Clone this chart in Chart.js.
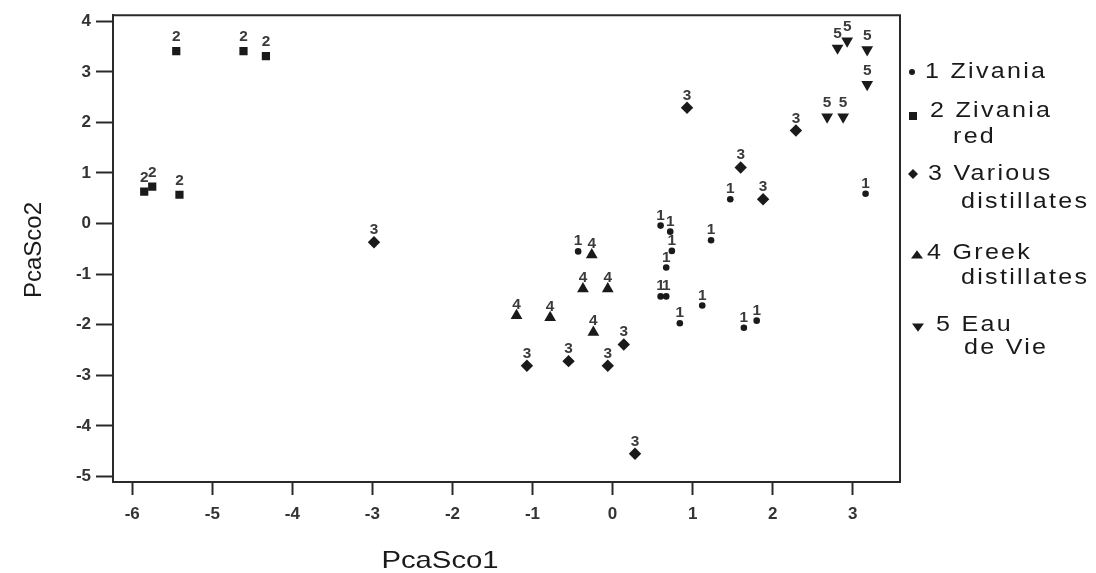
<!DOCTYPE html>
<html>
<head>
<meta charset="utf-8">
<title>PCA scores of distillates</title>
<script src="https://cdn.jsdelivr.net/npm/chart.js@4.4.1/dist/chart.umd.min.js"></script>
<style>
  html, body { margin: 0; padding: 0; background: #ffffff; }
  #wrap { width: 1096px; height: 573px; position: relative; }
</style>
</head>
<body>
<div id="wrap"><canvas id="pca" width="1096" height="573"></canvas></div>
<script>
// ---- data: PCA scores per sample group ----
const groupNumbers = ['1', '2', '3', '4', '5'];
const legendLines = [
  ['1 Zivania'],
  ['2 Zivania', 'red'],
  ['3 Various', 'distillates'],
  ['4 Greek', 'distillates'],
  ['5 Eau', 'de Vie']
];

const zivaniaX = [-0.43, 0.60, 0.72, 0.74, 0.67, 0.60, 0.67, 1.23, 1.12, 0.84, 1.47, 3.16, 1.64, 1.80];
const zivaniaY = [-0.55, -0.04, -0.16, -0.54, -0.87, -1.44, -1.44, -0.33, -1.62, -1.97, 0.48, 0.59, -2.06, -1.92];

const zivaniaRedX = [-5.45, -4.61, -4.33, -5.85, -5.75, -5.41];
const zivaniaRedY = [3.41, 3.41, 3.31, 0.63, 0.73, 0.57];

const variousX = [-2.98, 0.93, 2.29, 1.60, 1.88, -1.07, -0.55, -0.06, 0.14, 0.28];
const variousY = [-0.37, 2.29, 1.84, 1.11, 0.48, -2.81, -2.72, -2.81, -2.39, -4.55];

const greekX = [-0.26, -0.37, -0.06, -1.20, -0.78, -0.24];
const greekY = [-0.62, -1.29, -1.29, -1.82, -1.86, -2.15];

const eauDeVieX = [2.81, 2.93, 3.18, 3.18, 2.68, 2.88];
const eauDeVieY = [3.47, 3.61, 3.44, 2.75, 2.11, 2.11];

const xTickValues = [-6, -5, -4, -3, -2, -1, 0, 1, 2, 3];
const yTickValues = [-5, -4, -3, -2, -1, 0, 1, 2, 3, 4];
const xRange = [-6.24, 3.59];
const yRange = [-5.11, 4.12];

const xTitle = 'PcaSco1';
const yTitle = 'PcaSco2';

// ---- helpers ----
const FAMILY = '"Liberation Sans", Arial, Helvetica, sans-serif';
const INK = '#1a1a1a';

function toPoints(xs, ys) {
  return xs.map((x, i) => ({ x: x, y: ys[i] }));
}

function drawText(ctx, text, x, y, sx, spacing) {
  ctx.save();
  ctx.translate(x, y);
  ctx.scale(sx, 1);
  if (spacing && 'letterSpacing' in ctx) ctx.letterSpacing = spacing + 'px';
  ctx.fillText(text, 0, 0);
  ctx.restore();
}

function drawMarker(ctx, kind, x, y, r) {
  ctx.beginPath();
  if (kind === 'circle') {
    ctx.arc(x, y, r, 0, Math.PI * 2);
  } else if (kind === 'rect') {
    ctx.rect(x - r, y - r, 2 * r, 2 * r);
  } else if (kind === 'rectRot') {
    ctx.moveTo(x, y - r); ctx.lineTo(x + r, y); ctx.lineTo(x, y + r); ctx.lineTo(x - r, y);
  } else if (kind === 'triangle') {
    ctx.moveTo(x, y - r * 0.8); ctx.lineTo(x + r, y + r * 0.6); ctx.lineTo(x - r, y + r * 0.6);
  } else if (kind === 'triangleDown') {
    ctx.moveTo(x, y + r * 0.8); ctx.lineTo(x + r, y - r * 0.6); ctx.lineTo(x - r, y - r * 0.6);
  }
  ctx.closePath();
  ctx.fill();
}

// number written above every point, showing its group
const labelLift = [11, 15, 13, 12, 15];
const groupLabels = {
  id: 'groupLabels',
  afterDatasetsDraw(chart) {
    const ctx = chart.ctx;
    const size = 14;
    ctx.save();
    ctx.font = 'bold ' + size + 'px ' + FAMILY;
    ctx.fillStyle = '#3a3a3a';
    ctx.textAlign = 'center';
    ctx.textBaseline = 'alphabetic';
    chart.data.datasets.forEach((ds, i) => {
      const meta = chart.getDatasetMeta(i);
      meta.data.forEach(el => {
        const cy = el.y - labelLift[i];
        drawText(ctx, groupNumbers[i], el.x, cy + 0.36 * size, 1.1, 0);
      });
    });
    ctx.restore();
  }
};

// closes the plot box on the top and right sides
const plotFrame = {
  id: 'plotFrame',
  beforeDatasetsDraw(chart) {
    const { ctx, chartArea: a } = chart;
    ctx.save();
    ctx.strokeStyle = '#2a2a2a';
    ctx.lineWidth = 2;
    ctx.beginPath();
    ctx.moveTo(a.left, a.top);
    ctx.lineTo(a.right, a.top);
    ctx.lineTo(a.right, a.bottom);
    ctx.stroke();
    ctx.restore();
  }
};

// axis titles
const axisTitles = {
  id: 'axisTitles',
  afterDraw(chart) {
    const ctx = chart.ctx;
    ctx.save();
    ctx.fillStyle = INK;
    ctx.font = '24px ' + FAMILY;
    ctx.textAlign = 'center';
    ctx.textBaseline = 'middle';
    drawText(ctx, xTitle, 440, 561, 1.22, 0);
    ctx.save();
    ctx.translate(34, 250);
    ctx.rotate(-Math.PI / 2);
    ctx.fillText(yTitle, 0, 0);
    ctx.restore();
    ctx.restore();
  }
};

// legend at the right of the plot, with wrapped names
const legendMarks = ['circle', 'rect', 'rectRot', 'triangle', 'triangleDown'];
const legendMarkSize = [3, 4, 5, 6, 6];
const legendRows = [
  { mark: [912, 72], text: [[925, 72]] },
  { mark: [913, 116], text: [[930, 111], [953, 137]] },
  { mark: [913, 174], text: [[928, 174], [961, 202]] },
  { mark: [917, 255], text: [[927, 253], [961, 278]] },
  { mark: [918, 327], text: [[936, 325], [964, 348]] }
];
const sideLegend = {
  id: 'sideLegend',
  afterDraw(chart) {
    const ctx = chart.ctx;
    ctx.save();
    ctx.fillStyle = INK;
    ctx.font = '22px ' + FAMILY;
    ctx.textAlign = 'left';
    ctx.textBaseline = 'middle';
    legendRows.forEach((row, i) => {
      drawMarker(ctx, legendMarks[i], row.mark[0], row.mark[1], legendMarkSize[i]);
      legendLines[i].forEach((line, j) => {
        drawText(ctx, line, row.text[j][0], row.text[j][1], 1.14, 2);
      });
    });
    ctx.restore();
  }
};

const tickFont = { family: FAMILY, size: 17, weight: 'bold' };

new Chart(document.getElementById('pca'), {
  type: 'scatter',
  data: {
    datasets: [
      { label: legendLines[0].join(' '), data: toPoints(zivaniaX, zivaniaY), pointStyle: 'circle', pointRadius: 3.3 },
      { label: legendLines[1].join(' '), data: toPoints(zivaniaRedX, zivaniaRedY), pointStyle: 'rect', pointRadius: 5.8 },
      { label: legendLines[2].join(' '), data: toPoints(variousX, variousY), pointStyle: 'rectRot', pointRadius: 6.2 },
      { label: legendLines[3].join(' '), data: toPoints(greekX, greekY), pointStyle: 'triangle', pointRadius: 6.8 },
      { label: legendLines[4].join(' '), data: toPoints(eauDeVieX, eauDeVieY), pointStyle: 'triangle', rotation: 180, pointRadius: 6.8 }
    ].map(ds => Object.assign(ds, {
      backgroundColor: INK,
      borderColor: INK,
      borderWidth: 0,
      pointHoverRadius: ds.pointRadius
    }))
  },
  options: {
    responsive: false,
    animation: false,
    events: [],
    layout: { padding: { left: 0, top: 14, right: 196, bottom: 0 } },
    plugins: {
      legend: { display: false },
      tooltip: { enabled: false },
      title: { display: false }
    },
    scales: {
      x: {
        type: 'linear',
        min: xRange[0],
        max: xRange[1],
        afterBuildTicks: s => { s.ticks = xTickValues.map(v => ({ value: v })); },
        afterFit: s => { s.height = 91; },
        grid: { drawOnChartArea: false, drawTicks: true, tickLength: 13, tickColor: '#2a2a2a', tickWidth: 2 },
        border: { display: true, color: '#2a2a2a', width: 2 },
        ticks: { font: tickFont, color: '#333333', padding: 9, maxRotation: 0, autoSkip: false }
      },
      y: {
        type: 'linear',
        min: yRange[0],
        max: yRange[1],
        afterBuildTicks: s => { s.ticks = yTickValues.map(v => ({ value: v })); },
        afterFit: s => { s.width = 113; },
        grid: { drawOnChartArea: false, drawTicks: true, tickLength: 17, tickColor: '#2a2a2a', tickWidth: 2 },
        border: { display: true, color: '#2a2a2a', width: 2 },
        ticks: { font: tickFont, color: '#333333', padding: 5, autoSkip: false }
      }
    }
  },
  plugins: [plotFrame, groupLabels, axisTitles, sideLegend]
});
</script>
</body>
</html>
